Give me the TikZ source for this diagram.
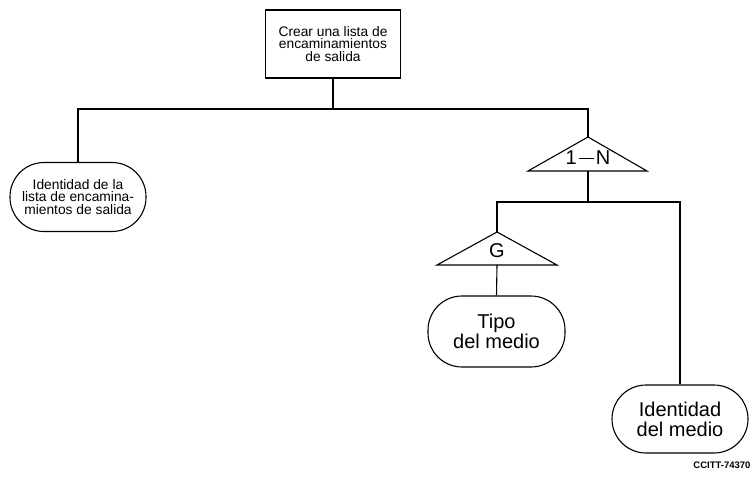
\documentclass[tikz,border=0pt]{standalone}
\usepackage{fontspec}
\setmainfont{Liberation Sans}
\begin{document}
\begin{tikzpicture}[x=1pt,y=-1pt,line width=1.1pt,
  smalltext/.style={font=\fontsize{13.8}{12.8}\selectfont,align=center,inner sep=0pt},
  bigtext/.style={font=\fontsize{20}{20}\selectfont,align=center,inner sep=0pt},
  box/.style={draw,minimum width=135pt,minimum height=68pt},
  leaf/.style={draw,rounded corners=34pt},
  tri/.style={draw,line join=miter}]
\useasboundingbox (0,0) rectangle (752,479);

% root box
\node[box,smalltext] (root) at (333,44) {Crear una lista de\\encaminamientos\\de salida};

% left leaf
\node[leaf,smalltext,minimum width=136pt,minimum height=69pt] (lista) at (78,197)
  {Identidad de la\\lista de encamina-\\mientos de salida};

% 1-N group
\coordinate (nApex) at (588,137);
\coordinate (nL) at (528,171);
\coordinate (nR) at (647,171);
\coordinate (nBase) at (588,171);
\draw[tri] (nApex) -- (nL) -- (nR) -- cycle;
\node[bigtext] (nLabel) at (588,158) {1\hspace{2pt}\rule[6pt]{15pt}{1.3pt}\hspace{2pt}N};

% G group
\coordinate (gApex) at (497,232);
\coordinate (gL) at (437,265);
\coordinate (gR) at (557,265);
\coordinate (gBase) at (497,265);
\draw[tri] (gApex) -- (gL) -- (gR) -- cycle;
\node[bigtext] (gLabel) at (497,251) {G};

% lower leaves
\node[leaf,bigtext,minimum width=137pt,minimum height=71pt] (tipo) at (496.5,331.5)
  {Tipo\\del medio};
\node[leaf,bigtext,minimum width=136pt,minimum height=68pt] (ident) at (680,419)
  {Identidad\\del medio};

% connectors
\coordinate (j1) at (333,109);
\coordinate (j2) at (588,202);
\draw (root.south) -- (j1);
\draw (lista.north) |- (j1) -| (nApex);
\draw (nBase) -- (j2);
\draw (gApex) |- (j2) -| (ident.north);
\draw (gBase) -- (tipo.north);

% reference number
\node[anchor=base east,inner sep=0pt,font=\fontsize{9.5}{10}\selectfont\bfseries] (ref) at (751,468) {CCITT-74370};
\end{tikzpicture}
\end{document}
